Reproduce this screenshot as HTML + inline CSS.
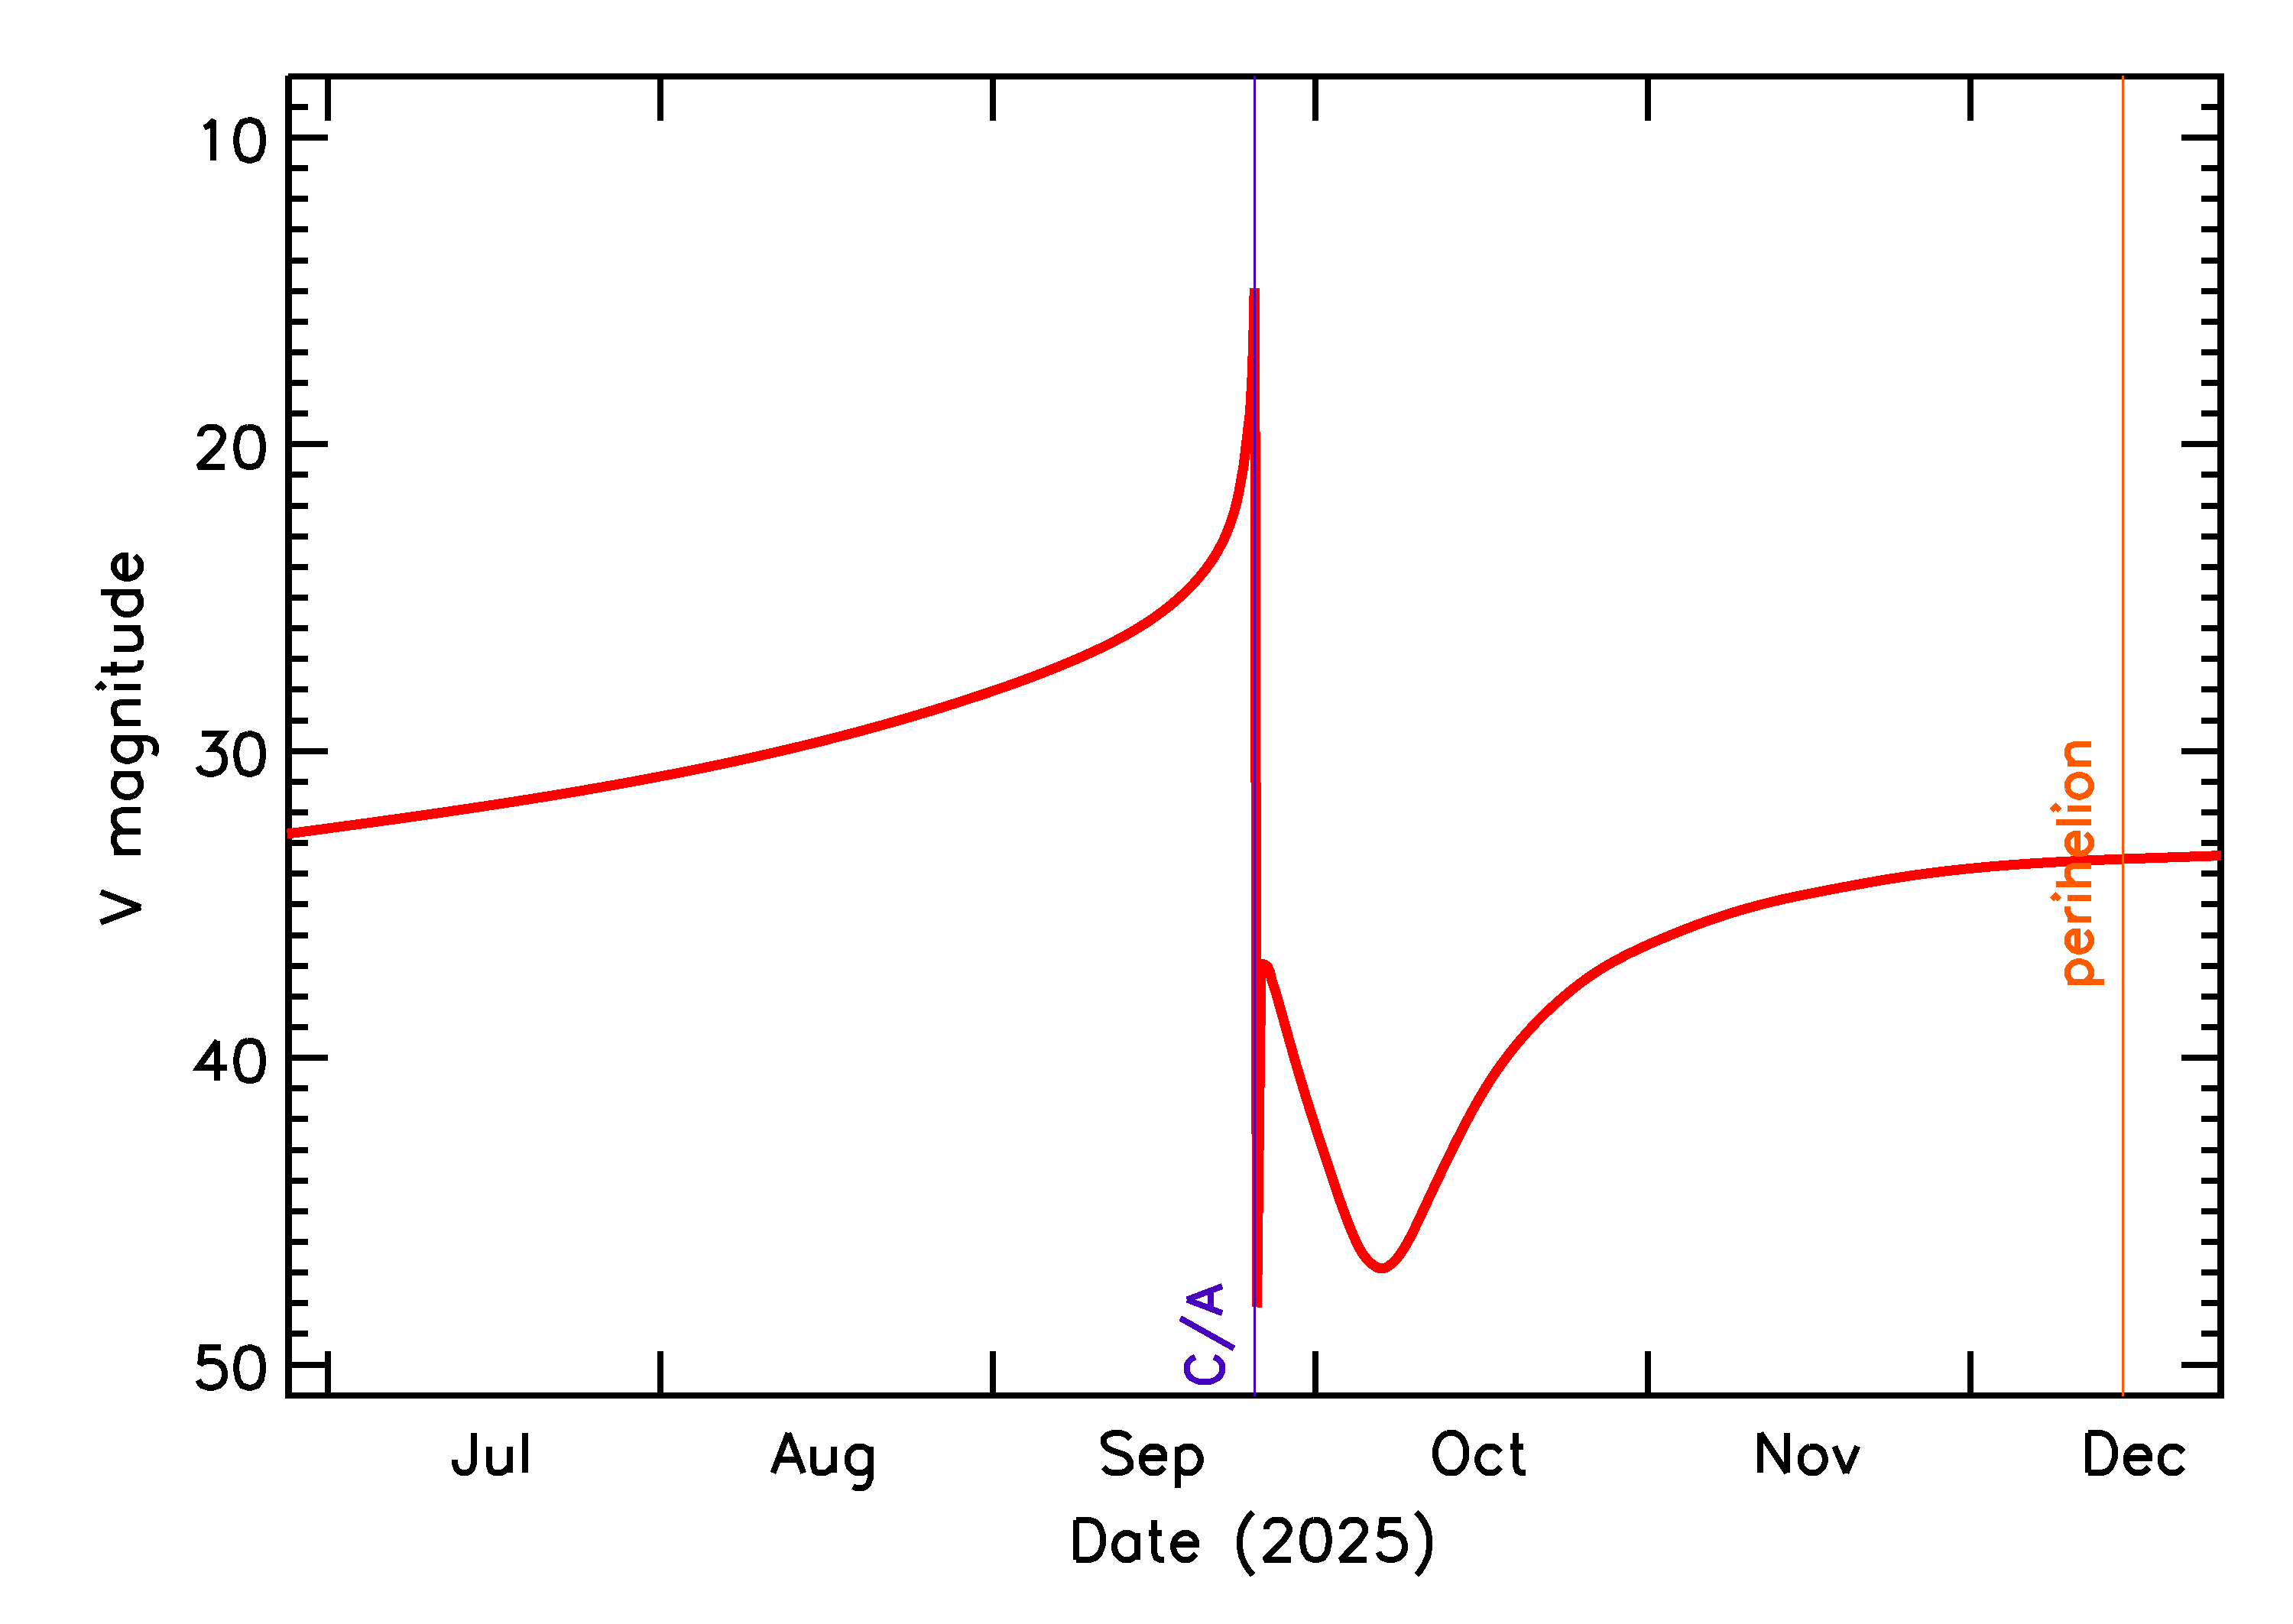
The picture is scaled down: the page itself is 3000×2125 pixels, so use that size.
<!DOCTYPE html>
<html><head><meta charset="utf-8"><style>html,body{margin:0;padding:0;background:#fff;width:3000px;height:2125px;overflow:hidden}svg{display:block}</style></head>
<body>
<svg xmlns="http://www.w3.org/2000/svg" width="3000" height="2125" viewBox="0 0 3000 2125" shape-rendering="crispEdges">
<rect width="3000" height="2125" fill="#fff"/>
<rect x="377" y="96" width="2533" height="8" fill="#000"/>
<rect x="373" y="1822" width="2537" height="8" fill="#000"/>
<rect x="373" y="99" width="9" height="1731" fill="#000"/>
<rect x="2901" y="96" width="9" height="1734" fill="#000"/>
<rect x="382" y="136" width="21" height="8" fill="#000"/>
<rect x="2880" y="136" width="21" height="8" fill="#000"/>
<rect x="382" y="176" width="47" height="8" fill="#000"/>
<rect x="2854" y="176" width="47" height="8" fill="#000"/>
<rect x="382" y="216" width="21" height="8" fill="#000"/>
<rect x="2880" y="216" width="21" height="8" fill="#000"/>
<rect x="382" y="256" width="21" height="8" fill="#000"/>
<rect x="2880" y="256" width="21" height="8" fill="#000"/>
<rect x="382" y="296" width="21" height="8" fill="#000"/>
<rect x="2880" y="296" width="21" height="8" fill="#000"/>
<rect x="382" y="337" width="21" height="8" fill="#000"/>
<rect x="2880" y="337" width="21" height="8" fill="#000"/>
<rect x="382" y="377" width="21" height="8" fill="#000"/>
<rect x="2880" y="377" width="21" height="8" fill="#000"/>
<rect x="382" y="417" width="21" height="8" fill="#000"/>
<rect x="2880" y="417" width="21" height="8" fill="#000"/>
<rect x="382" y="457" width="21" height="8" fill="#000"/>
<rect x="2880" y="457" width="21" height="8" fill="#000"/>
<rect x="382" y="497" width="21" height="8" fill="#000"/>
<rect x="2880" y="497" width="21" height="8" fill="#000"/>
<rect x="382" y="537" width="21" height="8" fill="#000"/>
<rect x="2880" y="537" width="21" height="8" fill="#000"/>
<rect x="382" y="577" width="47" height="8" fill="#000"/>
<rect x="2854" y="577" width="47" height="8" fill="#000"/>
<rect x="382" y="617" width="21" height="8" fill="#000"/>
<rect x="2880" y="617" width="21" height="8" fill="#000"/>
<rect x="382" y="658" width="21" height="8" fill="#000"/>
<rect x="2880" y="658" width="21" height="8" fill="#000"/>
<rect x="382" y="698" width="21" height="8" fill="#000"/>
<rect x="2880" y="698" width="21" height="8" fill="#000"/>
<rect x="382" y="738" width="21" height="8" fill="#000"/>
<rect x="2880" y="738" width="21" height="8" fill="#000"/>
<rect x="382" y="778" width="21" height="8" fill="#000"/>
<rect x="2880" y="778" width="21" height="8" fill="#000"/>
<rect x="382" y="818" width="21" height="8" fill="#000"/>
<rect x="2880" y="818" width="21" height="8" fill="#000"/>
<rect x="382" y="858" width="21" height="8" fill="#000"/>
<rect x="2880" y="858" width="21" height="8" fill="#000"/>
<rect x="382" y="898" width="21" height="8" fill="#000"/>
<rect x="2880" y="898" width="21" height="8" fill="#000"/>
<rect x="382" y="939" width="21" height="8" fill="#000"/>
<rect x="2880" y="939" width="21" height="8" fill="#000"/>
<rect x="382" y="979" width="47" height="8" fill="#000"/>
<rect x="2854" y="979" width="47" height="8" fill="#000"/>
<rect x="382" y="1019" width="21" height="8" fill="#000"/>
<rect x="2880" y="1019" width="21" height="8" fill="#000"/>
<rect x="382" y="1059" width="21" height="8" fill="#000"/>
<rect x="2880" y="1059" width="21" height="8" fill="#000"/>
<rect x="382" y="1099" width="21" height="8" fill="#000"/>
<rect x="2880" y="1099" width="21" height="8" fill="#000"/>
<rect x="382" y="1139" width="21" height="8" fill="#000"/>
<rect x="2880" y="1139" width="21" height="8" fill="#000"/>
<rect x="382" y="1179" width="21" height="8" fill="#000"/>
<rect x="2880" y="1179" width="21" height="8" fill="#000"/>
<rect x="382" y="1220" width="21" height="8" fill="#000"/>
<rect x="2880" y="1220" width="21" height="8" fill="#000"/>
<rect x="382" y="1260" width="21" height="8" fill="#000"/>
<rect x="2880" y="1260" width="21" height="8" fill="#000"/>
<rect x="382" y="1300" width="21" height="8" fill="#000"/>
<rect x="2880" y="1300" width="21" height="8" fill="#000"/>
<rect x="382" y="1340" width="21" height="8" fill="#000"/>
<rect x="2880" y="1340" width="21" height="8" fill="#000"/>
<rect x="382" y="1380" width="47" height="8" fill="#000"/>
<rect x="2854" y="1380" width="47" height="8" fill="#000"/>
<rect x="382" y="1420" width="21" height="8" fill="#000"/>
<rect x="2880" y="1420" width="21" height="8" fill="#000"/>
<rect x="382" y="1460" width="21" height="8" fill="#000"/>
<rect x="2880" y="1460" width="21" height="8" fill="#000"/>
<rect x="382" y="1501" width="21" height="8" fill="#000"/>
<rect x="2880" y="1501" width="21" height="8" fill="#000"/>
<rect x="382" y="1541" width="21" height="8" fill="#000"/>
<rect x="2880" y="1541" width="21" height="8" fill="#000"/>
<rect x="382" y="1581" width="21" height="8" fill="#000"/>
<rect x="2880" y="1581" width="21" height="8" fill="#000"/>
<rect x="382" y="1621" width="21" height="8" fill="#000"/>
<rect x="2880" y="1621" width="21" height="8" fill="#000"/>
<rect x="382" y="1661" width="21" height="8" fill="#000"/>
<rect x="2880" y="1661" width="21" height="8" fill="#000"/>
<rect x="382" y="1701" width="21" height="8" fill="#000"/>
<rect x="2880" y="1701" width="21" height="8" fill="#000"/>
<rect x="382" y="1741" width="21" height="8" fill="#000"/>
<rect x="2880" y="1741" width="21" height="8" fill="#000"/>
<rect x="382" y="1782" width="47" height="8" fill="#000"/>
<rect x="2854" y="1782" width="47" height="8" fill="#000"/>
<rect x="425" y="104" width="8" height="54" fill="#000"/>
<rect x="425" y="1768" width="8" height="54" fill="#000"/>
<rect x="860" y="104" width="8" height="54" fill="#000"/>
<rect x="860" y="1768" width="8" height="54" fill="#000"/>
<rect x="1295" y="104" width="8" height="54" fill="#000"/>
<rect x="1295" y="1768" width="8" height="54" fill="#000"/>
<rect x="1717" y="104" width="8" height="54" fill="#000"/>
<rect x="1717" y="1768" width="8" height="54" fill="#000"/>
<rect x="2152" y="104" width="8" height="54" fill="#000"/>
<rect x="2152" y="1768" width="8" height="54" fill="#000"/>
<rect x="2574" y="104" width="8" height="54" fill="#000"/>
<rect x="2574" y="1768" width="8" height="54" fill="#000"/>
<g fill="none" stroke="#f00" stroke-width="13">
<path d="M375.64 1091.12L377.62 1090.85L379.59 1090.59L381.56 1090.33L383.54 1090.06L385.51 1089.80L387.48 1089.53L389.46 1089.27L391.43 1089.00L393.41 1088.74L395.38 1088.47L397.35 1088.21L399.33 1087.94L401.30 1087.68L403.28 1087.41L405.25 1087.15L407.23 1086.88L409.20 1086.62L411.18 1086.35L413.15 1086.09L415.13 1085.82L417.10 1085.55L419.08 1085.29L421.05 1085.02L423.03 1084.76L425.00 1084.49L426.98 1084.22L428.95 1083.96L430.93 1083.69L432.90 1083.42L434.88 1083.15L436.86 1082.89L438.83 1082.62L440.81 1082.35L442.78 1082.08L444.76 1081.81L446.73 1081.55L448.71 1081.28L450.69 1081.01L452.66 1080.74L454.64 1080.47L456.62 1080.20L458.59 1079.93L460.57 1079.66L462.55 1079.39L464.52 1079.12L466.50 1078.85L468.48 1078.58L470.45 1078.31L472.43 1078.04L474.41 1077.77L476.38 1077.50L478.36 1077.23L480.34 1076.96L482.31 1076.68L484.29 1076.41L486.27 1076.14L488.24 1075.87L490.22 1075.59L492.20 1075.32L494.17 1075.05L496.15 1074.77L498.13 1074.50L500.11 1074.23L502.08 1073.95L504.06 1073.68L506.04 1073.40L508.02 1073.13L509.99 1072.85L511.97 1072.58L513.95 1072.30L515.92 1072.02L517.90 1071.75L519.88 1071.47L521.86 1071.19L523.83 1070.91L525.81 1070.64L527.79 1070.36L529.77 1070.08L531.74 1069.80L533.72 1069.52L535.70 1069.24L537.68 1068.96L539.65 1068.68L541.63 1068.40L543.61 1068.12L545.59 1067.84L547.56 1067.56L549.54 1067.28L551.52 1067.00L553.50 1066.72L555.47 1066.43L557.45 1066.15L559.43 1065.87L561.41 1065.58L563.38 1065.30L565.36 1065.01L567.34 1064.73L569.32 1064.44L571.29 1064.16L573.27 1063.87L575.25 1063.59L577.23 1063.30L579.20 1063.01L581.18 1062.73L583.16 1062.44L585.14 1062.15L587.11 1061.86L589.09 1061.57L591.07 1061.28L593.04 1060.99L595.02 1060.70L597.00 1060.41L598.98 1060.12L600.95 1059.83L602.93 1059.54L604.91 1059.25L606.88 1058.95L608.86 1058.66L610.84 1058.37L612.81 1058.07L614.79 1057.78L616.77 1057.48L618.75 1057.19L620.72 1056.89L622.70 1056.60L624.68 1056.30L626.65 1056.00L628.63 1055.70L630.60 1055.41L632.58 1055.11L634.56 1054.81L636.53 1054.51L638.51 1054.21L640.49 1053.91L642.46 1053.61L644.44 1053.31L646.41 1053.00L648.39 1052.70L650.37 1052.40L652.34 1052.10L654.32 1051.79L656.29 1051.49L658.27 1051.18L660.24 1050.88L662.22 1050.57L664.20 1050.27L666.17 1049.96L668.15 1049.65L670.12 1049.34L672.10 1049.03L674.07 1048.73L676.05 1048.42L678.02 1048.11L680.00 1047.79L681.97 1047.48L683.95 1047.17L685.92 1046.86L687.90 1046.55L689.87 1046.23L691.84 1045.92L693.82 1045.60L695.79 1045.29L697.77 1044.97L699.74 1044.66L701.71 1044.34L703.69 1044.02L705.66 1043.71L707.64 1043.39L709.61 1043.07L711.58 1042.75L713.56 1042.43L715.53 1042.11L717.50 1041.78L719.48 1041.46L721.45 1041.14L723.42 1040.82L725.39 1040.49L727.37 1040.17L729.34 1039.84L731.31 1039.52L733.28 1039.19L735.26 1038.86L737.23 1038.53L739.20 1038.21L741.17 1037.88L743.14 1037.55L745.12 1037.22L747.09 1036.89L749.06 1036.55L751.03 1036.22L753.00 1035.89L754.97 1035.56L756.94 1035.22L758.91 1034.89L760.89 1034.55L762.86 1034.21L764.83 1033.88L766.80 1033.54L768.77 1033.20L770.74 1032.86L772.71 1032.52L774.68 1032.18L776.65 1031.84L778.62 1031.50L780.59 1031.16L782.55 1030.81L784.52 1030.47L786.49 1030.13L788.46 1029.78L790.43 1029.43L792.40 1029.09L794.37 1028.74L796.33 1028.39L798.30 1028.04L800.27 1027.69L802.24 1027.34L804.21 1026.99L806.17 1026.64L808.14 1026.29L810.11 1025.93L812.08 1025.58L814.04 1025.22L816.01 1024.87L817.98 1024.51L819.94 1024.15L821.91 1023.80L823.87 1023.44L825.84 1023.08L827.81 1022.72L829.77 1022.36L831.74 1022.00L833.70 1021.63L835.67 1021.27L837.63 1020.90L839.60 1020.54L841.56 1020.17L843.53 1019.81L845.49 1019.44L847.45 1019.07L849.42 1018.70L851.38 1018.33L853.35 1017.96L855.31 1017.59L857.27 1017.22L859.23 1016.85L861.20 1016.47L863.16 1016.10L865.12 1015.72L867.08 1015.34L869.05 1014.97L871.01 1014.59L872.97 1014.21L874.93 1013.83L876.89 1013.45L878.85 1013.07L880.82 1012.68L882.78 1012.30L884.74 1011.92L886.70 1011.53L888.66 1011.15L890.62 1010.76L892.58 1010.37L894.54 1009.98L896.50 1009.59L898.45 1009.20L900.41 1008.81L902.37 1008.42L904.33 1008.03L906.29 1007.63L908.25 1007.24L910.20 1006.84L912.16 1006.45L914.12 1006.05L916.08 1005.65L918.03 1005.25L919.99 1004.85L921.95 1004.45L923.90 1004.05L925.86 1003.64L927.81 1003.24L929.77 1002.83L931.73 1002.43L933.68 1002.02L935.64 1001.61L937.59 1001.20L939.55 1000.79L941.50 1000.38L943.45 999.97L945.41 999.56L947.36 999.14L949.31 998.73L951.27 998.31L953.22 997.90L955.17 997.48L957.13 997.06L959.08 996.64L961.03 996.22L962.98 995.80L964.93 995.38L966.88 994.95L968.83 994.53L970.79 994.10L972.74 993.68L974.69 993.25L976.64 992.82L978.59 992.39L980.53 991.96L982.48 991.53L984.43 991.10L986.38 990.66L988.33 990.23L990.28 989.79L992.23 989.36L994.17 988.92L996.12 988.48L998.07 988.04L1000.01 987.60L1001.96 987.16L1003.91 986.71L1005.85 986.27L1007.80 985.82L1009.74 985.38L1011.69 984.93L1013.63 984.48L1015.58 984.03L1017.52 983.58L1019.47 983.13L1021.41 982.68L1023.35 982.22L1025.30 981.77L1027.24 981.31L1029.18 980.85L1031.13 980.40L1033.07 979.94L1035.01 979.48L1036.95 979.01L1038.89 978.55L1040.83 978.09L1042.77 977.62L1044.71 977.16L1046.65 976.69L1048.59 976.22L1050.53 975.75L1052.47 975.28L1054.41 974.81L1056.35 974.34L1058.29 973.86L1060.23 973.39L1062.16 972.91L1064.10 972.43L1066.04 971.96L1067.98 971.48L1069.91 970.99L1071.85 970.51L1073.78 970.03L1075.72 969.54L1077.65 969.06L1079.59 968.57L1081.52 968.08L1083.46 967.59L1085.39 967.10L1087.33 966.61L1089.26 966.12L1091.19 965.63L1093.13 965.13L1095.06 964.63L1096.99 964.14L1098.92 963.64L1100.85 963.14L1102.78 962.64L1104.71 962.13L1106.64 961.63L1108.58 961.12L1110.50 960.62L1112.43 960.11L1114.36 959.60L1116.29 959.09L1118.22 958.58L1120.15 958.07L1122.08 957.55L1124.00 957.04L1125.93 956.52L1127.86 956.01L1129.78 955.49L1131.71 954.97L1133.64 954.45L1135.56 953.92L1137.49 953.40L1139.41 952.87L1141.33 952.35L1143.26 951.82L1145.18 951.29L1147.11 950.76L1149.03 950.23L1150.95 949.70L1152.87 949.16L1154.79 948.63L1156.72 948.09L1158.64 947.55L1160.56 947.01L1162.48 946.47L1164.40 945.93L1166.32 945.39L1168.24 944.84L1170.16 944.30L1172.07 943.75L1173.99 943.20L1175.91 942.65L1177.83 942.10L1179.74 941.55L1181.66 940.99L1183.58 940.44L1185.49 939.88L1187.41 939.32L1189.32 938.76L1191.24 938.20L1193.15 937.64L1195.07 937.08L1196.98 936.51L1198.89 935.95L1200.81 935.38L1202.72 934.81L1204.63 934.24L1206.54 933.67L1208.45 933.09L1210.37 932.52L1212.28 931.94L1214.19 931.36L1216.10 930.79L1218.01 930.21L1219.91 929.62L1221.82 929.04L1223.73 928.46L1225.64 927.87L1227.55 927.28L1229.45 926.69L1231.36 926.10L1233.27 925.51L1235.17 924.92L1237.08 924.33L1238.98 923.73L1240.89 923.13L1242.79 922.53L1244.69 921.93L1246.60 921.33L1248.50 920.73L1250.40 920.12L1252.30 919.52L1254.21 918.91L1256.11 918.30L1258.01 917.69L1259.91 917.08L1261.81 916.46L1263.71 915.85L1265.61 915.23L1267.51 914.62L1269.40 914.00L1271.30 913.38L1273.20 912.75L1275.10 912.13L1276.99 911.50L1278.89 910.88L1280.78 910.25L1282.68 909.62L1284.57 908.99L1286.47 908.35L1288.36 907.72L1290.26 907.08L1292.15 906.44L1294.04 905.80L1295.93 905.16L1297.82 904.52L1299.71 903.88L1301.60 903.23L1303.49 902.58L1305.38 901.93L1307.27 901.28L1309.16 900.62L1311.05 899.97L1312.93 899.31L1314.82 898.65L1316.70 897.99L1318.59 897.33L1320.47 896.66L1322.36 895.99L1324.24 895.32L1326.12 894.65L1328.00 893.98L1329.88 893.30L1331.76 892.62L1333.64 891.94L1335.52 891.26L1337.39 890.57L1339.27 889.88L1341.15 889.19L1343.02 888.50L1344.89 887.81L1346.77 887.11L1348.64 886.41L1350.51 885.71L1352.38 885.00L1354.25 884.29L1356.12 883.58L1357.99 882.87L1359.85 882.16L1361.72 881.44L1363.58 880.72L1365.45 880.00L1367.31 879.27L1369.17 878.54L1371.03 877.81L1372.89 877.08L1374.75 876.34L1376.61 875.60L1378.47 874.86L1380.32 874.11L1382.18 873.37L1384.03 872.61L1385.88 871.86L1387.73 871.10L1389.58 870.34L1391.43 869.58L1393.28 868.81L1395.13 868.04L1396.97 867.27L1398.82 866.50L1400.66 865.72L1402.50 864.93L1404.34 864.15L1406.18 863.36L1408.02 862.57L1409.85 861.77L1411.69 860.97L1413.52 860.17L1415.36 859.37L1417.19 858.56L1419.02 857.74L1420.84 856.93L1422.67 856.11L1424.49 855.28L1426.32 854.45L1428.14 853.62L1429.95 852.78L1431.77 851.94L1433.58 851.10L1435.39 850.25L1437.20 849.39L1439.01 848.53L1440.81 847.67L1442.62 846.80L1444.41 845.92L1446.21 845.04L1448.00 844.16L1449.79 843.26L1451.58 842.37L1453.36 841.47L1455.14 840.56L1456.92 839.65L1458.70 838.73L1460.47 837.80L1462.23 836.87L1464.00 835.94L1465.76 834.99L1467.51 834.05L1469.27 833.09L1471.01 832.13L1472.76 831.16L1474.50 830.19L1476.24 829.20L1477.97 828.22L1479.70 827.22L1481.42 826.22L1483.14 825.21L1484.85 824.19L1486.56 823.17L1488.27 822.14L1489.97 821.10L1491.66 820.05L1493.35 819.00L1495.04 817.94L1496.72 816.87L1498.40 815.79L1500.07 814.70L1501.73 813.61L1503.39 812.51L1505.04 811.40L1506.69 810.28L1508.34 809.15L1509.97 808.02L1511.60 806.87L1513.23 805.72L1514.85 804.56L1516.46 803.38L1518.07 802.20L1519.67 801.01L1521.27 799.82L1522.86 798.61L1524.44 797.39L1526.01 796.16L1527.58 794.93L1529.14 793.68L1530.70 792.42L1532.25 791.16L1533.79 789.88L1535.32 788.60L1536.85 787.30L1538.37 786.00L1539.88 784.68L1541.38 783.36L1542.87 782.03L1544.36 780.68L1545.84 779.33L1547.30 777.97L1548.76 776.59L1550.21 775.21L1551.65 773.82L1553.08 772.42L1554.50 771.00L1555.90 769.58L1557.30 768.15L1558.69 766.71L1560.07 765.26L1561.43 763.80L1562.79 762.33L1564.13 760.85L1565.46 759.36L1566.78 757.86L1568.09 756.35L1569.39 754.83L1570.67 753.30L1571.94 751.77L1573.20 750.22L1574.44 748.66L1575.67 747.09L1576.89 745.51L1578.10 743.93L1579.29 742.33L1580.47 740.72L1581.63 739.11L1582.78 737.48L1583.91 735.85L1585.03 734.20L1586.13 732.54L1587.22 730.88L1588.30 729.20L1589.36 727.52L1590.40 725.82L1591.42 724.12L1592.43 722.41L1593.43 720.68L1594.41 718.95L1595.37 717.21L1596.31 715.45L1597.24 713.69L1598.15 711.92L1599.04 710.14L1599.92 708.35L1600.79 706.55L1601.63 704.75L1602.46 702.93L1603.28 701.11L1604.08 699.28L1604.86 697.44L1605.63 695.60L1606.38 693.75L1607.12 691.89L1607.84 690.02L1608.55 688.15L1609.24 686.27L1609.91 684.39L1610.58 682.50L1611.23 680.60L1611.86 678.70L1612.48 676.80L1613.08 674.88L1613.67 672.97L1614.25 671.05L1614.81 669.12L1615.36 667.19L1615.90 665.26L1616.42 663.32L1616.93 661.38L1617.42 659.44L1617.90 657.49L1618.37 655.54L1618.82 653.59L1619.27 651.64L1619.70 649.68L1620.11 647.72L1620.52 645.76L1620.91 643.79L1621.29 641.83L1621.65 639.86L1627.00 610.00L1635.50 539.00L1638.00 495.00L1639.40 455.00L1640.60 410.00L1641.20 377.00" stroke-linejoin="round"/>
<path d="M1641.60 378.50L1644.50 1710.50M1644.50 1710.50L1650.00 1261.50"/>
<path d="M1650.00 1261.50L1654.00 1261.80L1658.30 1264.50L1661.30 1271.00L1663.50 1281.00L1667.10 1292.00L1669.58 1299.97L1670.13 1301.90L1670.68 1303.83L1671.22 1305.76L1671.77 1307.68L1672.31 1309.61L1672.86 1311.54L1673.40 1313.47L1673.94 1315.40L1674.48 1317.33L1675.03 1319.25L1675.57 1321.18L1676.11 1323.11L1676.65 1325.03L1677.19 1326.96L1677.73 1328.89L1678.27 1330.81L1678.81 1332.74L1679.35 1334.66L1679.88 1336.59L1680.42 1338.51L1680.96 1340.43L1681.50 1342.36L1682.04 1344.28L1682.58 1346.21L1683.12 1348.13L1683.66 1350.05L1684.20 1351.97L1684.74 1353.90L1685.28 1355.82L1685.82 1357.74L1686.36 1359.66L1686.90 1361.58L1687.44 1363.50L1687.98 1365.42L1688.53 1367.34L1689.07 1369.26L1689.62 1371.18L1690.16 1373.10L1690.71 1375.02L1691.25 1376.94L1691.80 1378.86L1692.35 1380.78L1692.90 1382.70L1693.45 1384.62L1694.00 1386.53L1694.56 1388.45L1695.11 1390.37L1695.67 1392.29L1696.22 1394.20L1696.78 1396.12L1697.34 1398.04L1697.90 1399.95L1698.46 1401.87L1699.03 1403.79L1699.59 1405.70L1700.16 1407.62L1700.73 1409.53L1701.30 1411.45L1701.87 1413.36L1702.45 1415.28L1703.02 1417.19L1703.60 1419.11L1704.18 1421.02L1704.76 1422.94L1705.34 1424.85L1705.93 1426.76L1706.51 1428.68L1707.10 1430.59L1707.69 1432.50L1708.28 1434.41L1708.88 1436.33L1709.47 1438.24L1710.07 1440.15L1710.67 1442.06L1711.26 1443.97L1711.86 1445.88L1712.47 1447.80L1713.07 1449.71L1713.67 1451.62L1714.28 1453.53L1714.89 1455.44L1715.50 1457.34L1716.10 1459.25L1716.71 1461.16L1717.33 1463.07L1717.94 1464.98L1718.55 1466.88L1719.17 1468.79L1719.78 1470.70L1720.40 1472.60L1721.02 1474.51L1721.63 1476.42L1722.25 1478.32L1722.87 1480.23L1723.49 1482.13L1724.11 1484.03L1724.73 1485.94L1725.36 1487.84L1725.98 1489.74L1726.60 1491.64L1727.23 1493.55L1727.85 1495.45L1728.48 1497.35L1729.10 1499.25L1729.73 1501.15L1730.35 1503.05L1730.98 1504.95L1731.60 1506.84L1732.23 1508.74L1732.86 1510.64L1733.48 1512.54L1734.11 1514.43L1734.74 1516.33L1735.36 1518.22L1735.99 1520.12L1736.62 1522.01L1737.24 1523.90L1737.87 1525.80L1738.50 1527.69L1739.12 1529.58L1739.75 1531.47L1740.37 1533.36L1741.00 1535.25L1741.63 1537.14L1742.25 1539.03L1742.88 1540.92L1743.51 1542.81L1744.14 1544.69L1744.77 1546.58L1745.40 1548.47L1746.04 1550.35L1746.67 1552.24L1747.31 1554.12L1747.95 1556.00L1748.59 1557.89L1749.23 1559.77L1749.88 1561.65L1750.52 1563.53L1751.17 1565.41L1751.83 1567.30L1752.48 1569.18L1753.15 1571.06L1753.81 1572.93L1754.48 1574.81L1755.15 1576.69L1755.82 1578.57L1756.50 1580.45L1757.18 1582.32L1757.87 1584.20L1758.56 1586.08L1759.26 1587.95L1759.96 1589.83L1760.67 1591.70L1761.38 1593.57L1762.10 1595.45L1762.82 1597.32L1763.55 1599.19L1764.28 1601.07L1765.02 1602.94L1765.77 1604.81L1766.52 1606.68L1767.28 1608.55L1768.04 1610.42L1768.82 1612.29L1769.59 1614.16L1770.38 1616.03L1771.18 1617.90L1771.98 1619.76L1772.80 1621.62L1773.63 1623.47L1774.48 1625.31L1775.35 1627.14L1776.25 1628.96L1777.16 1630.76L1778.11 1632.54L1779.08 1634.29L1780.08 1636.03L1781.12 1637.74L1782.19 1639.43L1783.30 1641.08L1784.46 1642.71L1785.65 1644.30L1786.89 1645.85L1788.18 1647.37L1789.52 1648.85L1790.91 1650.28L1792.35 1651.68L1793.85 1653.02L1795.41 1654.32L1797.03 1655.56L1798.70 1656.71L1800.42 1657.73L1802.18 1658.59L1803.97 1659.24L1805.79 1659.65L1807.63 1659.78L1809.47 1659.62L1811.32 1659.18L1813.15 1658.50L1814.95 1657.62L1816.72 1656.58L1818.43 1655.40L1820.09 1654.13L1821.67 1652.80L1823.19 1651.40L1824.64 1649.95L1826.04 1648.45L1827.38 1646.91L1828.67 1645.33L1829.92 1643.72L1831.13 1642.08L1832.31 1640.41L1833.45 1638.73L1834.57 1637.04L1835.67 1635.33L1836.75 1633.62L1837.80 1631.90L1838.84 1630.18L1839.85 1628.44L1840.85 1626.70L1841.84 1624.95L1842.80 1623.20L1843.76 1621.44L1844.70 1619.67L1845.62 1617.90L1846.54 1616.13L1847.44 1614.35L1848.33 1612.57L1849.22 1610.78L1850.10 1608.99L1850.97 1607.20L1851.83 1605.40L1852.69 1603.60L1853.55 1601.80L1854.40 1600.00L1855.25 1598.20L1856.10 1596.40L1856.95 1594.59L1857.80 1592.79L1858.65 1590.99L1859.50 1589.18L1860.35 1587.38L1861.20 1585.57L1862.04 1583.77L1862.89 1581.96L1863.74 1580.15L1864.59 1578.35L1865.43 1576.54L1866.28 1574.73L1867.13 1572.93L1867.98 1571.12L1868.82 1569.31L1869.67 1567.50L1870.52 1565.70L1871.37 1563.89L1872.22 1562.08L1873.07 1560.27L1873.92 1558.47L1874.77 1556.66L1875.62 1554.85L1876.47 1553.04L1877.32 1551.24L1878.17 1549.43L1879.03 1547.62L1879.88 1545.82L1880.73 1544.01L1881.59 1542.20L1882.45 1540.40L1883.30 1538.59L1884.16 1536.79L1885.02 1534.98L1885.88 1533.18L1886.75 1531.37L1887.61 1529.57L1888.47 1527.77L1889.34 1525.96L1890.21 1524.16L1891.07 1522.36L1891.94 1520.56L1892.81 1518.76L1893.69 1516.96L1894.56 1515.16L1895.44 1513.36L1896.32 1511.57L1897.19 1509.77L1898.08 1507.97L1898.96 1506.18L1899.84 1504.38L1900.73 1502.59L1901.62 1500.80L1902.51 1499.00L1903.40 1497.21L1904.30 1495.42L1905.19 1493.64L1906.09 1491.85L1906.99 1490.06L1907.90 1488.27L1908.80 1486.49L1909.71 1484.71L1910.62 1482.92L1911.54 1481.14L1912.45 1479.36L1913.37 1477.58L1914.29 1475.81L1915.22 1474.03L1916.14 1472.25L1917.07 1470.48L1918.01 1468.71L1918.94 1466.94L1919.88 1465.17L1920.82 1463.41L1921.77 1461.64L1922.72 1459.88L1923.67 1458.12L1924.63 1456.36L1925.59 1454.60L1926.55 1452.85L1927.52 1451.10L1928.50 1449.35L1929.47 1447.60L1930.46 1445.86L1931.44 1444.12L1932.43 1442.38L1933.43 1440.65L1934.43 1438.91L1935.43 1437.18L1936.44 1435.46L1937.46 1433.74L1938.48 1432.02L1939.50 1430.30L1940.53 1428.59L1941.57 1426.88L1942.61 1425.17L1943.66 1423.47L1944.71 1421.77L1945.77 1420.07L1946.83 1418.38L1947.90 1416.70L1948.98 1415.01L1950.06 1413.33L1951.15 1411.66L1952.25 1409.99L1953.35 1408.32L1954.46 1406.66L1955.58 1405.00L1956.70 1403.35L1957.83 1401.70L1958.96 1400.06L1960.11 1398.42L1961.25 1396.78L1962.41 1395.15L1963.57 1393.53L1964.74 1391.91L1965.91 1390.29L1967.09 1388.68L1968.28 1387.07L1969.48 1385.47L1970.68 1383.87L1971.88 1382.28L1973.09 1380.69L1974.31 1379.11L1975.54 1377.53L1976.77 1375.95L1978.01 1374.39L1979.25 1372.82L1980.50 1371.26L1981.76 1369.71L1983.02 1368.16L1984.29 1366.62L1985.56 1365.08L1986.85 1363.54L1988.13 1362.01L1989.43 1360.49L1990.73 1358.97L1992.03 1357.46L1993.34 1355.95L1994.66 1354.45L1995.98 1352.95L1997.31 1351.46L1998.65 1349.97L1999.99 1348.49L2001.34 1347.01L2002.69 1345.54L2004.05 1344.07L2005.41 1342.61L2006.78 1341.15L2008.16 1339.70L2009.54 1338.26L2010.93 1336.82L2012.32 1335.38L2013.72 1333.96L2015.13 1332.53L2016.54 1331.12L2017.95 1329.70L2019.37 1328.30L2020.80 1326.90L2022.23 1325.50L2023.67 1324.11L2025.12 1322.73L2026.57 1321.35L2028.02 1319.98L2029.48 1318.61L2030.95 1317.25L2032.42 1315.90L2033.90 1314.55L2035.38 1313.20L2036.87 1311.87L2038.36 1310.54L2039.86 1309.21L2041.37 1307.89L2042.88 1306.58L2044.39 1305.27L2045.91 1303.97L2047.44 1302.67L2048.97 1301.38L2050.50 1300.10L2052.04 1298.82L2053.59 1297.55L2055.14 1296.28L2056.70 1295.03L2058.26 1293.77L2059.83 1292.53L2061.40 1291.29L2062.98 1290.06L2064.57 1288.84L2066.16 1287.63L2067.75 1286.42L2069.36 1285.22L2070.96 1284.03L2072.58 1282.85L2074.20 1281.68L2075.82 1280.52L2077.45 1279.36L2079.09 1278.22L2080.73 1277.08L2082.38 1275.95L2084.04 1274.84L2085.70 1273.73L2087.37 1272.63L2089.04 1271.55L2090.72 1270.47L2092.41 1269.40L2094.10 1268.34L2095.80 1267.29L2097.50 1266.26L2099.21 1265.22L2100.92 1264.20L2102.64 1263.19L2104.37 1262.19L2106.10 1261.19L2107.83 1260.21L2109.57 1259.23L2111.31 1258.26L2113.06 1257.29L2114.82 1256.34L2116.57 1255.39L2118.34 1254.45L2120.10 1253.52L2121.87 1252.59L2123.65 1251.68L2125.43 1250.77L2127.21 1249.86L2129.00 1248.96L2130.79 1248.07L2132.58 1247.19L2134.38 1246.31L2136.18 1245.44L2137.98 1244.57L2139.78 1243.71L2141.59 1242.85L2143.41 1242.00L2145.22 1241.16L2147.04 1240.32L2148.86 1239.49L2150.68 1238.66L2152.51 1237.83L2154.33 1237.01L2156.16 1236.20L2157.99 1235.39L2159.83 1234.58L2161.66 1233.78L2163.50 1232.98L2165.34 1232.18L2167.18 1231.39L2169.02 1230.60L2170.86 1229.82L2172.70 1229.04L2174.55 1228.26L2176.40 1227.48L2178.24 1226.71L2180.09 1225.94L2181.94 1225.17L2183.79 1224.40L2185.64 1223.64L2187.49 1222.88L2189.34 1222.12L2191.19 1221.37L2193.04 1220.62L2194.90 1219.87L2196.75 1219.12L2198.61 1218.38L2200.47 1217.64L2202.33 1216.91L2204.18 1216.18L2206.05 1215.45L2207.91 1214.72L2209.77 1214.00L2211.64 1213.28L2213.50 1212.57L2215.37 1211.86L2217.24 1211.15L2219.11 1210.45L2220.98 1209.75L2222.85 1209.05L2224.73 1208.36L2226.60 1207.68L2228.48 1207.00L2230.36 1206.32L2232.24 1205.65L2234.12 1204.98L2236.01 1204.31L2237.89 1203.65L2239.78 1203.00L2241.67 1202.35L2243.56 1201.71L2245.46 1201.06L2247.35 1200.43L2249.25 1199.80L2251.14 1199.17L2253.04 1198.55L2254.95 1197.93L2256.85 1197.32L2258.75 1196.71L2260.66 1196.10L2262.57 1195.50L2264.47 1194.91L2266.39 1194.32L2268.30 1193.73L2270.21 1193.15L2272.13 1192.57L2274.04 1192.00L2275.96 1191.43L2277.88 1190.86L2279.80 1190.30L2281.72 1189.75L2283.64 1189.20L2285.57 1188.65L2287.49 1188.11L2289.42 1187.57L2291.35 1187.04L2293.28 1186.51L2295.21 1185.98L2297.14 1185.46L2299.07 1184.95L2301.00 1184.43L2302.94 1183.93L2304.87 1183.42L2306.81 1182.92L2308.75 1182.43L2310.69 1181.94L2312.63 1181.45L2314.57 1180.97L2316.51 1180.49L2318.45 1180.02L2320.40 1179.55L2322.34 1179.08L2324.29 1178.62L2326.24 1178.16L2328.18 1177.71L2330.13 1177.26L2332.08 1176.81L2334.03 1176.37L2335.98 1175.94L2337.93 1175.50L2339.89 1175.08L2341.84 1174.65L2343.79 1174.23L2345.75 1173.81L2347.70 1173.40L2349.66 1172.98L2351.61 1172.58L2353.57 1172.17L2355.53 1171.77L2357.49 1171.37L2359.44 1170.97L2361.40 1170.57L2363.36 1170.18L2365.32 1169.79L2367.28 1169.40L2369.24 1169.01L2371.20 1168.63L2373.17 1168.24L2375.13 1167.86L2377.09 1167.48L2379.05 1167.09L2381.01 1166.71L2382.98 1166.34L2384.94 1165.96L2386.90 1165.58L2388.87 1165.20L2390.83 1164.82L2392.80 1164.45L2394.76 1164.07L2396.72 1163.69L2398.69 1163.32L2400.65 1162.95L2402.62 1162.57L2404.58 1162.20L2406.55 1161.83L2408.51 1161.45L2410.48 1161.08L2412.44 1160.71L2414.41 1160.34L2416.38 1159.98L2418.34 1159.61L2420.31 1159.24L2422.28 1158.88L2424.24 1158.51L2426.21 1158.15L2428.18 1157.79L2430.15 1157.43L2432.12 1157.07L2434.08 1156.71L2436.05 1156.36L2438.02 1156.00L2439.99 1155.65L2441.96 1155.30L2443.93 1154.95L2445.90 1154.60L2447.87 1154.25L2449.84 1153.91L2451.81 1153.57L2453.78 1153.22L2455.75 1152.88L2457.72 1152.55L2459.70 1152.21L2461.67 1151.88L2463.64 1151.54L2465.61 1151.21L2467.59 1150.89L2469.56 1150.56L2471.53 1150.24L2473.51 1149.91L2475.48 1149.60L2477.46 1149.28L2479.43 1148.96L2481.41 1148.65L2483.38 1148.34L2485.36 1148.03L2487.33 1147.73L2489.31 1147.43L2491.29 1147.13L2493.26 1146.83L2495.24 1146.54L2497.22 1146.24L2499.19 1145.96L2501.17 1145.67L2503.15 1145.38L2505.13 1145.10L2507.11 1144.82L2509.09 1144.55L2511.07 1144.27L2513.05 1144.00L2515.03 1143.73L2517.01 1143.47L2518.99 1143.20L2520.97 1142.94L2522.95 1142.68L2524.93 1142.42L2526.92 1142.17L2528.90 1141.92L2530.88 1141.67L2532.86 1141.42L2534.85 1141.18L2536.83 1140.93L2538.82 1140.69L2540.80 1140.45L2542.78 1140.22L2544.77 1139.99L2546.75 1139.75L2548.74 1139.52L2550.72 1139.30L2552.71 1139.07L2554.69 1138.85L2556.68 1138.63L2558.67 1138.41L2560.65 1138.20L2562.64 1137.98L2564.63 1137.77L2566.61 1137.56L2568.60 1137.35L2570.59 1137.15L2572.58 1136.94L2574.57 1136.74L2576.55 1136.54L2578.54 1136.34L2580.53 1136.15L2582.52 1135.95L2584.51 1135.76L2586.50 1135.57L2588.49 1135.38L2590.48 1135.20L2592.47 1135.01L2594.46 1134.83L2596.45 1134.65L2598.44 1134.47L2600.43 1134.30L2602.42 1134.12L2604.41 1133.95L2606.41 1133.78L2608.40 1133.61L2610.39 1133.44L2612.38 1133.27L2614.37 1133.11L2616.37 1132.95L2618.36 1132.78L2620.35 1132.63L2622.34 1132.47L2624.34 1132.31L2626.33 1132.16L2628.32 1132.00L2630.32 1131.85L2632.31 1131.70L2634.31 1131.56L2636.30 1131.41L2638.29 1131.26L2640.29 1131.12L2642.28 1130.98L2644.28 1130.84L2646.27 1130.70L2648.27 1130.56L2650.26 1130.43L2652.26 1130.29L2654.25 1130.16L2656.25 1130.03L2658.25 1129.90L2660.24 1129.77L2662.24 1129.64L2664.23 1129.51L2666.23 1129.39L2668.23 1129.26L2670.22 1129.14L2672.22 1129.02L2674.22 1128.90L2676.21 1128.78L2678.21 1128.66L2680.21 1128.55L2682.20 1128.43L2684.20 1128.32L2686.20 1128.21L2688.20 1128.10L2690.19 1127.99L2692.19 1127.88L2694.19 1127.77L2696.19 1127.66L2698.18 1127.56L2700.18 1127.45L2702.18 1127.35L2704.18 1127.24L2706.18 1127.14L2708.17 1127.04L2710.17 1126.94L2712.17 1126.84L2714.17 1126.75L2716.17 1126.65L2718.17 1126.55L2720.17 1126.46L2722.16 1126.36L2724.16 1126.27L2726.16 1126.18L2728.16 1126.09L2730.16 1126.00L2732.16 1125.91L2734.16 1125.82L2736.16 1125.73L2738.16 1125.64L2740.15 1125.56L2742.15 1125.47L2744.15 1125.39L2746.15 1125.30L2748.15 1125.22L2750.15 1125.13L2752.15 1125.05L2754.15 1124.97L2756.15 1124.89L2758.15 1124.81L2760.15 1124.73L2762.15 1124.65L2764.15 1124.57L2766.15 1124.49L2768.14 1124.42L2770.14 1124.34L2772.14 1124.26L2774.14 1124.19L2776.14 1124.11L2778.14 1124.04L2780.14 1123.96L2782.14 1123.89L2784.14 1123.81L2786.14 1123.74L2788.14 1123.67L2790.14 1123.60L2792.14 1123.52L2794.14 1123.45L2796.14 1123.38L2798.13 1123.31L2800.13 1123.24L2802.13 1123.17L2804.13 1123.10L2806.13 1123.03L2808.13 1122.96L2810.13 1122.89L2812.13 1122.82L2814.13 1122.75L2816.13 1122.68L2818.12 1122.61L2820.12 1122.54L2822.12 1122.48L2824.12 1122.41L2826.12 1122.34L2828.12 1122.27L2830.12 1122.20L2832.11 1122.14L2834.11 1122.07L2836.11 1122.00L2838.11 1121.93L2840.11 1121.87L2842.10 1121.80L2844.10 1121.73L2846.10 1121.66L2848.10 1121.59L2850.09 1121.53L2852.09 1121.46L2854.09 1121.39L2856.09 1121.32L2858.08 1121.25L2860.08 1121.19L2862.08 1121.12L2864.08 1121.05L2866.07 1120.98L2868.07 1120.91L2870.07 1120.84L2872.06 1120.77L2874.06 1120.70L2876.05 1120.63L2878.05 1120.56L2880.05 1120.49L2882.04 1120.42L2884.04 1120.35L2886.03 1120.28L2888.03 1120.20L2890.02 1120.13L2892.02 1120.06L2894.01 1119.98L2896.01 1119.91L2898.00 1119.84L2900.00 1119.76L2901.99 1119.69L2903.99 1119.61L2905.98 1119.54" stroke-linejoin="round"/>
</g>
<rect x="1640" y="99" width="3" height="1728" fill="#4600BE"/>
<rect x="2776" y="99" width="3" height="1728" fill="#FF5A00"/>
<path d="M266.9 167.3L271.9 164.8L279.4 157.3L279.4 209.6M324.2 157.3L316.7 159.8L311.8 167.3L309.3 179.7L309.3 187.2L311.8 199.6L316.7 207.1L324.2 209.6L329.2 209.6L336.7 207.1L341.6 199.6L344.1 187.2L344.1 179.7L341.6 167.3L336.7 159.8L329.2 157.3L324.2 157.3" stroke="#000" stroke-width="8" fill="none" stroke-linecap="butt" stroke-linejoin="miter" stroke-miterlimit="2.3"/>
<path d="M262.0 571.3L262.0 568.8L264.4 563.8L266.9 561.3L271.9 558.8L281.9 558.8L286.9 561.3L289.4 563.8L291.8 568.8L291.8 573.8L289.4 578.7L284.4 586.2L259.5 611.1L294.3 611.1M324.2 558.8L316.7 561.3L311.8 568.8L309.3 581.2L309.3 588.7L311.8 601.2L316.7 608.6L324.2 611.1L329.2 611.1L336.7 608.6L341.6 601.2L344.1 588.7L344.1 581.2L341.6 568.8L336.7 561.3L329.2 558.8L324.2 558.8" stroke="#000" stroke-width="8" fill="none" stroke-linecap="butt" stroke-linejoin="miter" stroke-miterlimit="2.3"/>
<path d="M264.4 960.3L291.8 960.3L276.9 980.2L284.4 980.2L289.4 982.7L291.8 985.2L294.3 992.7L294.3 997.7L291.8 1005.1L286.9 1010.1L279.4 1012.6L271.9 1012.6L264.4 1010.1L262.0 1007.6L259.5 1002.7M324.2 960.3L316.7 962.8L311.8 970.3L309.3 982.7L309.3 990.2L311.8 1002.7L316.7 1010.1L324.2 1012.6L329.2 1012.6L336.7 1010.1L341.6 1002.7L344.1 990.2L344.1 982.7L341.6 970.3L336.7 962.8L329.2 960.3L324.2 960.3" stroke="#000" stroke-width="8" fill="none" stroke-linecap="butt" stroke-linejoin="miter" stroke-miterlimit="2.3"/>
<path d="M284.4 1361.8L259.5 1396.7L296.8 1396.7M284.4 1361.8L284.4 1414.1M324.2 1361.8L316.7 1364.3L311.8 1371.8L309.3 1384.2L309.3 1391.7L311.8 1404.2L316.7 1411.6L324.2 1414.1L329.2 1414.1L336.7 1411.6L341.6 1404.2L344.1 1391.7L344.1 1384.2L341.6 1371.8L336.7 1364.3L329.2 1361.8L324.2 1361.8" stroke="#000" stroke-width="8" fill="none" stroke-linecap="butt" stroke-linejoin="miter" stroke-miterlimit="2.3"/>
<path d="M289.4 1763.3L264.4 1763.3L262.0 1785.7L264.4 1783.2L271.9 1780.8L279.4 1780.8L286.9 1783.2L291.8 1788.2L294.3 1795.7L294.3 1800.7L291.8 1808.1L286.9 1813.1L279.4 1815.6L271.9 1815.6L264.4 1813.1L262.0 1810.6L259.5 1805.7M324.2 1763.3L316.7 1765.8L311.8 1773.3L309.3 1785.7L309.3 1793.2L311.8 1805.7L316.7 1813.1L324.2 1815.6L329.2 1815.6L336.7 1813.1L341.6 1805.7L344.1 1793.2L344.1 1785.7L341.6 1773.3L336.7 1765.8L329.2 1763.3L324.2 1763.3" stroke="#000" stroke-width="8" fill="none" stroke-linecap="butt" stroke-linejoin="miter" stroke-miterlimit="2.3"/>
<path d="M620.0 1875.1L620.0 1915.0L617.6 1922.4L615.1 1924.9L610.1 1927.4L605.1 1927.4L600.1 1924.9L597.6 1922.4L595.1 1915.0L595.1 1910.0M640.0 1892.5L640.0 1917.5L642.5 1924.9L647.4 1927.4L654.9 1927.4L659.9 1924.9L667.4 1917.5M667.4 1892.5L667.4 1927.4M687.3 1875.1L687.3 1927.4" stroke="#000" stroke-width="8" fill="none" stroke-linecap="butt" stroke-linejoin="miter" stroke-miterlimit="2.3"/>
<path d="M1031.4 1875.1L1011.5 1927.4M1031.4 1875.1L1051.3 1927.4M1018.9 1910.0L1043.8 1910.0M1063.8 1892.5L1063.8 1917.5L1066.2 1924.9L1071.2 1927.4L1078.7 1927.4L1083.7 1924.9L1091.2 1917.5M1091.2 1892.5L1091.2 1927.4M1138.5 1892.5L1138.5 1934.9L1136.0 1942.3L1133.5 1944.8L1128.5 1947.3L1121.0 1947.3L1116.0 1944.8M1138.5 1900.0L1133.5 1895.0L1128.5 1892.5L1121.0 1892.5L1116.0 1895.0L1111.1 1900.0L1108.6 1907.5L1108.6 1912.5L1111.1 1919.9L1116.0 1924.9L1121.0 1927.4L1128.5 1927.4L1133.5 1924.9L1138.5 1919.9" stroke="#000" stroke-width="8" fill="none" stroke-linecap="butt" stroke-linejoin="miter" stroke-miterlimit="2.3"/>
<path d="M1478.6 1882.6L1473.6 1877.6L1466.1 1875.1L1456.2 1875.1L1448.7 1877.6L1443.7 1882.6L1443.7 1887.6L1446.2 1892.5L1448.7 1895.0L1453.7 1897.5L1468.6 1902.5L1473.6 1905.0L1476.1 1907.5L1478.6 1912.5L1478.6 1919.9L1473.6 1924.9L1466.1 1927.4L1456.2 1927.4L1448.7 1924.9L1443.7 1919.9M1493.5 1907.5L1523.4 1907.5L1523.4 1902.5L1520.9 1897.5L1518.4 1895.0L1513.4 1892.5L1506.0 1892.5L1501.0 1895.0L1496.0 1900.0L1493.5 1907.5L1493.5 1912.5L1496.0 1919.9L1501.0 1924.9L1506.0 1927.4L1513.4 1927.4L1518.4 1924.9L1523.4 1919.9M1540.8 1892.5L1540.8 1947.3M1540.8 1900.0L1545.8 1895.0L1550.8 1892.5L1558.2 1892.5L1563.2 1895.0L1568.2 1900.0L1570.7 1907.5L1570.7 1912.5L1568.2 1919.9L1563.2 1924.9L1558.2 1927.4L1550.8 1927.4L1545.8 1924.9L1540.8 1919.9" stroke="#000" stroke-width="8" fill="none" stroke-linecap="butt" stroke-linejoin="miter" stroke-miterlimit="2.3"/>
<path d="M1893.4 1875.1L1888.4 1877.6L1883.4 1882.6L1880.9 1887.6L1878.4 1895.0L1878.4 1907.5L1880.9 1915.0L1883.4 1919.9L1888.4 1924.9L1893.4 1927.4L1903.3 1927.4L1908.3 1924.9L1913.3 1919.9L1915.8 1915.0L1918.3 1907.5L1918.3 1895.0L1915.8 1887.6L1913.3 1882.6L1908.3 1877.6L1903.3 1875.1L1893.4 1875.1M1963.1 1900.0L1958.1 1895.0L1953.1 1892.5L1945.7 1892.5L1940.7 1895.0L1935.7 1900.0L1933.2 1907.5L1933.2 1912.5L1935.7 1919.9L1940.7 1924.9L1945.7 1927.4L1953.1 1927.4L1958.1 1924.9L1963.1 1919.9M1983.0 1875.1L1983.0 1917.5L1985.5 1924.9L1990.5 1927.4L1995.5 1927.4M1975.5 1892.5L1993.0 1892.5" stroke="#000" stroke-width="8" fill="none" stroke-linecap="butt" stroke-linejoin="miter" stroke-miterlimit="2.3"/>
<path d="M2303.2 1875.1L2303.2 1927.4M2303.2 1875.1L2338.1 1927.4M2338.1 1875.1L2338.1 1927.4M2367.9 1892.5L2363.0 1895.0L2358.0 1900.0L2355.5 1907.5L2355.5 1912.5L2358.0 1919.9L2363.0 1924.9L2367.9 1927.4L2375.4 1927.4L2380.4 1924.9L2385.4 1919.9L2387.9 1912.5L2387.9 1907.5L2385.4 1900.0L2380.4 1895.0L2375.4 1892.5L2367.9 1892.5M2400.3 1892.5L2415.2 1927.4M2430.2 1892.5L2415.2 1927.4" stroke="#000" stroke-width="8" fill="none" stroke-linecap="butt" stroke-linejoin="miter" stroke-miterlimit="2.3"/>
<path d="M2731.9 1875.1L2731.9 1927.4M2731.9 1875.1L2749.3 1875.1L2756.8 1877.6L2761.8 1882.6L2764.3 1887.6L2766.8 1895.0L2766.8 1907.5L2764.3 1915.0L2761.8 1919.9L2756.8 1924.9L2749.3 1927.4L2731.9 1927.4M2781.7 1907.5L2811.6 1907.5L2811.6 1902.5L2809.1 1897.5L2806.6 1895.0L2801.6 1892.5L2794.1 1892.5L2789.2 1895.0L2784.2 1900.0L2781.7 1907.5L2781.7 1912.5L2784.2 1919.9L2789.2 1924.9L2794.1 1927.4L2801.6 1927.4L2806.6 1924.9L2811.6 1919.9M2856.4 1900.0L2851.4 1895.0L2846.4 1892.5L2839.0 1892.5L2834.0 1895.0L2829.0 1900.0L2826.5 1907.5L2826.5 1912.5L2829.0 1919.9L2834.0 1924.9L2839.0 1927.4L2846.4 1927.4L2851.4 1924.9L2856.4 1919.9" stroke="#000" stroke-width="8" fill="none" stroke-linecap="butt" stroke-linejoin="miter" stroke-miterlimit="2.3"/>
<path d="M1408.2 1988.8L1408.2 2041.0M1408.2 1988.8L1425.6 1988.8L1433.1 1991.3L1438.1 1996.2L1440.5 2001.2L1443.0 2008.7L1443.0 2021.1L1440.5 2028.5L1438.1 2033.5L1433.1 2038.5L1425.6 2041.0L1408.2 2041.0M1487.8 2006.2L1487.8 2041.0M1487.8 2013.6L1482.8 2008.7L1477.8 2006.2L1470.4 2006.2L1465.4 2008.7L1460.4 2013.6L1457.9 2021.1L1457.9 2026.1L1460.4 2033.5L1465.4 2038.5L1470.4 2041.0L1477.8 2041.0L1482.8 2038.5L1487.8 2033.5M1510.1 1988.8L1510.1 2031.0L1512.6 2038.5L1517.6 2041.0L1522.5 2041.0M1502.7 2006.2L1520.1 2006.2M1535.0 2021.1L1564.8 2021.1L1564.8 2016.1L1562.3 2011.1L1559.8 2008.7L1554.9 2006.2L1547.4 2006.2L1542.4 2008.7L1537.5 2013.6L1535.0 2021.1L1535.0 2026.1L1537.5 2033.5L1542.4 2038.5L1547.4 2041.0L1554.9 2041.0L1559.8 2038.5L1564.8 2033.5M1639.3 1978.8L1634.4 1983.8L1629.4 1991.3L1624.4 2001.2L1621.9 2013.6L1621.9 2023.9L1624.4 2037.1L1629.4 2047.6L1634.4 2055.6L1639.3 2060.8M1656.7 2001.2L1656.7 1998.7L1659.2 1993.8L1661.7 1991.3L1666.7 1988.8L1676.6 1988.8L1681.6 1991.3L1684.1 1993.8L1686.6 1998.7L1686.6 2003.7L1684.1 2008.7L1679.1 2016.1L1654.3 2041.0L1689.0 2041.0M1718.9 1988.8L1711.4 1991.3L1706.4 1998.7L1704.0 2011.1L1704.0 2018.6L1706.4 2031.0L1711.4 2038.5L1718.9 2041.0L1723.8 2041.0L1731.3 2038.5L1736.3 2031.0L1738.7 2018.6L1738.7 2011.1L1736.3 1998.7L1731.3 1991.3L1723.8 1988.8L1718.9 1988.8M1756.1 2001.2L1756.1 1998.7L1758.6 1993.8L1761.1 1991.3L1766.1 1988.8L1776.0 1988.8L1781.0 1991.3L1783.5 1993.8L1786.0 1998.7L1786.0 2003.7L1783.5 2008.7L1778.5 2016.1L1753.7 2041.0L1788.4 2041.0M1833.2 1988.8L1808.3 1988.8L1805.8 2011.1L1808.3 2008.7L1815.8 2006.2L1823.2 2006.2L1830.7 2008.7L1835.7 2013.6L1838.1 2021.1L1838.1 2026.1L1835.7 2033.5L1830.7 2038.5L1823.2 2041.0L1815.8 2041.0L1808.3 2038.5L1805.8 2036.0L1803.4 2031.0M1853.1 1978.8L1858.0 1983.8L1863.0 1991.3L1868.0 2001.2L1870.4 2013.6L1870.4 2023.9L1868.0 2037.1L1863.0 2047.6L1858.0 2055.6L1853.1 2060.8" stroke="#000" stroke-width="8" fill="none" stroke-linecap="butt" stroke-linejoin="miter" stroke-miterlimit="2.3"/>
<path d="M131.7 1207.0L184.0 1187.1M131.7 1167.2L184.0 1187.1M149.2 1115.0L184.0 1115.0M159.1 1115.0L151.6 1107.6L149.2 1102.6L149.2 1095.1L151.6 1090.2L159.1 1087.7L184.0 1087.7M159.1 1087.7L151.6 1080.2L149.2 1075.3L149.2 1067.8L151.6 1062.8L159.1 1060.3L184.0 1060.3M149.2 1013.1L184.0 1013.1M156.6 1013.1L151.6 1018.1L149.2 1023.0L149.2 1030.5L151.6 1035.5L156.6 1040.5L164.1 1042.9L169.1 1042.9L176.5 1040.5L181.5 1035.5L184.0 1030.5L184.0 1023.0L181.5 1018.1L176.5 1013.1M149.2 965.9L191.5 965.9L198.9 968.4L201.4 970.8L203.9 975.8L203.9 983.3L201.4 988.2M156.6 965.9L151.6 970.8L149.2 975.8L149.2 983.3L151.6 988.2L156.6 993.2L164.1 995.7L169.1 995.7L176.5 993.2L181.5 988.2L184.0 983.3L184.0 975.8L181.5 970.8L176.5 965.9M149.2 946.0L184.0 946.0M159.1 946.0L151.6 938.5L149.2 933.6L149.2 926.1L151.6 921.1L159.1 918.6L184.0 918.6M131.7 901.2L134.2 898.8L131.7 896.3L129.2 898.8L131.7 901.2M149.2 898.8L184.0 898.8M131.7 876.4L174.0 876.4L181.5 873.9L184.0 868.9L184.0 863.9M149.2 883.8L149.2 866.4M149.2 849.0L174.0 849.0L181.5 846.5L184.0 841.6L184.0 834.1L181.5 829.1L174.0 821.7M149.2 821.7L184.0 821.7M131.7 774.5L184.0 774.5M156.6 774.5L151.6 779.4L149.2 784.4L149.2 791.9L151.6 796.8L156.6 801.8L164.1 804.3L169.1 804.3L176.5 801.8L181.5 796.8L184.0 791.9L184.0 784.4L181.5 779.4L176.5 774.5M164.1 757.0L164.1 727.2L159.1 727.2L154.1 729.7L151.6 732.2L149.2 737.2L149.2 744.6L151.6 749.6L156.6 754.6L164.1 757.0L169.1 757.0L176.5 754.6L181.5 749.6L184.0 744.6L184.0 737.2L181.5 732.2L176.5 727.2" stroke="#000" stroke-width="8" fill="none" stroke-linecap="butt" stroke-linejoin="miter" stroke-miterlimit="2.3"/>
<path d="M1563.9 1775.4L1559.5 1777.6L1555.1 1782.0L1552.9 1786.4L1552.9 1795.2L1555.1 1799.6L1559.5 1804.0L1563.9 1806.2L1570.5 1808.4L1581.5 1808.4L1588.1 1806.2L1592.5 1804.0L1596.9 1799.6L1599.1 1795.2L1599.1 1786.4L1596.9 1782.0L1592.5 1777.6L1588.1 1775.4M1544.1 1724.8L1614.5 1764.4M1552.9 1700.6L1599.1 1718.2M1552.9 1700.6L1599.1 1683.0M1583.7 1711.6L1583.7 1689.6" stroke="#4600BE" stroke-width="8" fill="none" stroke-linecap="butt" stroke-linejoin="miter" stroke-miterlimit="2.3"/>
<path d="M2704.9 1284.5L2753.3 1284.5M2711.5 1284.5L2707.1 1280.1L2704.9 1275.7L2704.9 1269.1L2707.1 1264.7L2711.5 1260.3L2718.1 1258.1L2722.5 1258.1L2729.1 1260.3L2733.5 1264.7L2735.7 1269.1L2735.7 1275.7L2733.5 1280.1L2729.1 1284.5M2718.1 1244.9L2718.1 1218.5L2713.7 1218.5L2709.3 1220.7L2707.1 1222.9L2704.9 1227.3L2704.9 1233.9L2707.1 1238.3L2711.5 1242.7L2718.1 1244.9L2722.5 1244.9L2729.1 1242.7L2733.5 1238.3L2735.7 1233.9L2735.7 1227.3L2733.5 1222.9L2729.1 1218.5M2704.9 1203.1L2735.7 1203.1M2718.1 1203.1L2711.5 1200.9L2707.1 1196.5L2704.9 1192.1L2704.9 1185.5M2689.5 1176.7L2691.7 1174.5L2689.5 1172.3L2687.3 1174.5L2689.5 1176.7M2704.9 1174.5L2735.7 1174.5M2689.5 1156.9L2735.7 1156.9M2713.7 1156.9L2707.1 1150.3L2704.9 1145.9L2704.9 1139.3L2707.1 1134.9L2713.7 1132.7L2735.7 1132.7M2718.1 1117.3L2718.1 1090.9L2713.7 1090.9L2709.3 1093.1L2707.1 1095.3L2704.9 1099.7L2704.9 1106.3L2707.1 1110.7L2711.5 1115.1L2718.1 1117.3L2722.5 1117.3L2729.1 1115.1L2733.5 1110.7L2735.7 1106.3L2735.7 1099.7L2733.5 1095.3L2729.1 1090.9M2689.5 1075.5L2735.7 1075.5M2689.5 1060.1L2691.7 1057.9L2689.5 1055.7L2687.3 1057.9L2689.5 1060.1M2704.9 1057.9L2735.7 1057.9M2704.9 1031.5L2707.1 1035.9L2711.5 1040.3L2718.1 1042.5L2722.5 1042.5L2729.1 1040.3L2733.5 1035.9L2735.7 1031.5L2735.7 1024.9L2733.5 1020.5L2729.1 1016.1L2722.5 1013.9L2718.1 1013.9L2711.5 1016.1L2707.1 1020.5L2704.9 1024.9L2704.9 1031.5M2704.9 998.5L2735.7 998.5M2713.7 998.5L2707.1 991.9L2704.9 987.5L2704.9 980.9L2707.1 976.5L2713.7 974.3L2735.7 974.3" stroke="#FF5A00" stroke-width="8" fill="none" stroke-linecap="butt" stroke-linejoin="miter" stroke-miterlimit="2.3"/>
</svg>
</body></html>
